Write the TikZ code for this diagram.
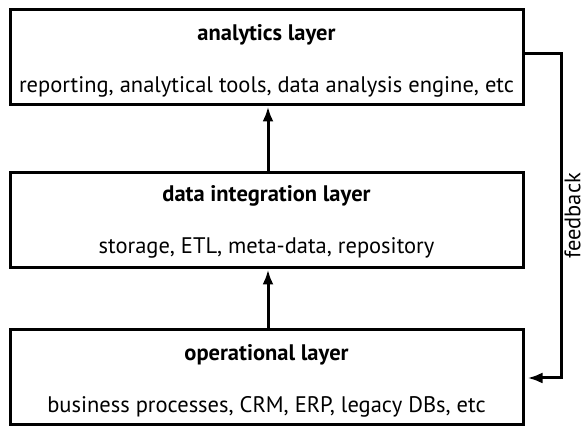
\documentclass[tikz,border=0pt]{standalone}
\usepackage{fontspec}
\setmainfont{PT Sans}
\usetikzlibrary{arrows.meta}
\begin{document}
\begin{tikzpicture}[x=1pt,y=-1pt,
  layer/.style={draw,line width=3pt,minimum width=513pt,minimum height=95pt,inner sep=0pt},
  ttl/.style={font=\fontsize{22.5}{26}\selectfont\bfseries,anchor=center},
  sub/.style={font=\fontsize{22.5}{26}\selectfont,anchor=center},
  conn/.style={line width=3pt,-{Latex[length=15pt,width=11pt]}}]
\useasboundingbox (0,0) rectangle (587,427);
\node[layer] (an) at (266.5,57.5) {};
\node[layer] (di) at (266.5,220.5) {};
\node[layer] (op) at (266.5,377.5) {};
\node[ttl] (ant) at (266.5,35) {analytics layer};
\node[sub] (ans) at (266.5,87) {reporting, analytical tools, data analysis engine, etc};
\node[ttl] (dit) at (266.5,196) {data integration layer};
\node[sub] (dis) at (266.5,248) {storage, ETL, meta-data, repository};
\node[ttl] (opt) at (266.5,355) {operational layer};
\node[sub] (ops) at (266.5,407) {business processes, CRM, ERP, legacy DBs, etc};
\draw[conn] (di.north -| 268,0) -- (an.south -| 268,0);
\draw[conn] (op.north -| 268,0) -- (di.south -| 268,0);
\coordinate (f1) at (561,54);
\coordinate (f2) at (561,378);
\draw[conn] (an.east |- f1) -- (f1) -- node[sub,rotate=90,anchor=north,inner sep=2pt] (fb) {feedback} (f2) -- ([xshift=3pt]op.east |- f2);
\end{tikzpicture}
\end{document}
